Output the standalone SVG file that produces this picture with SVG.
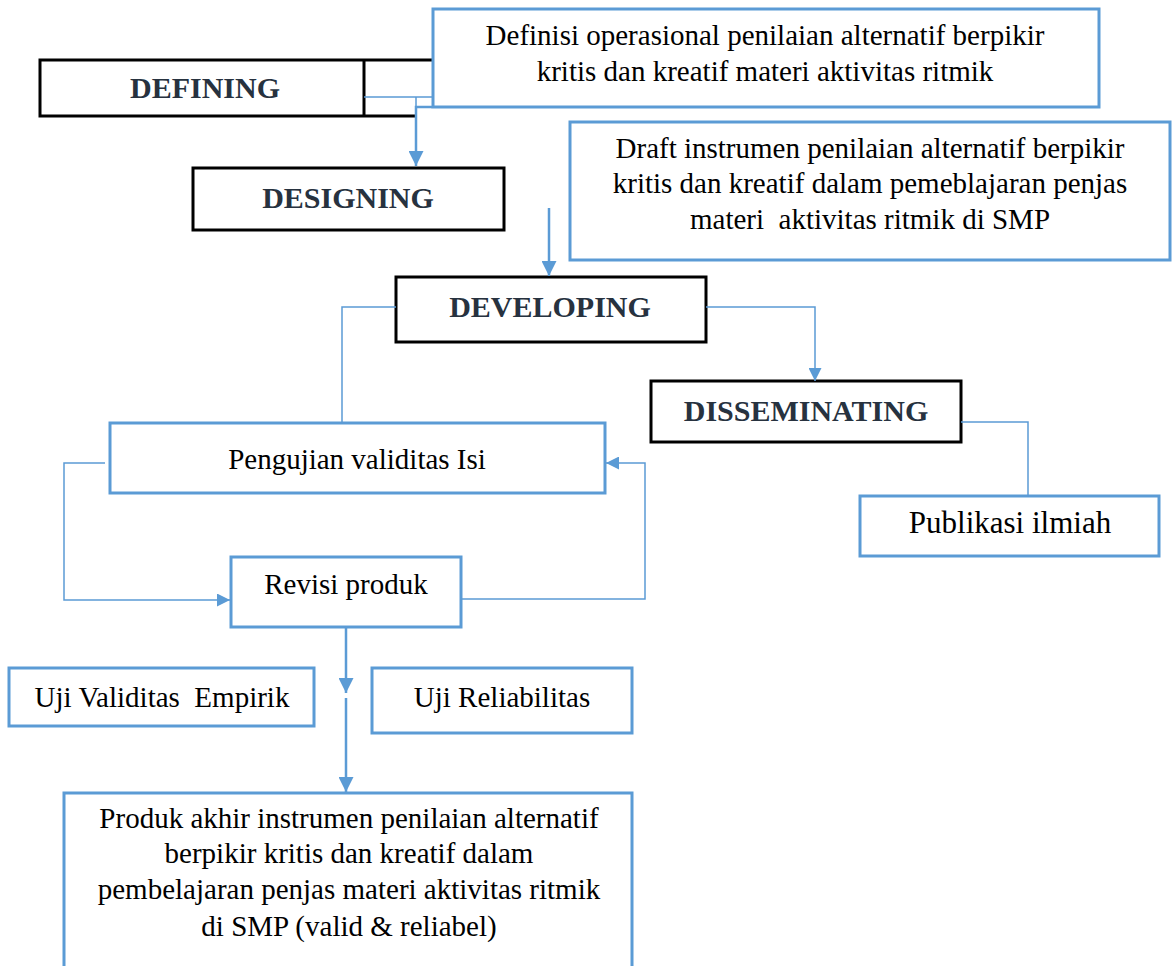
<svg xmlns="http://www.w3.org/2000/svg" width="1172" height="966" viewBox="0 0 1172 966">
<defs>
<marker id="ah" viewBox="0 0 10 10" refX="10" refY="5" markerUnits="userSpaceOnUse" markerWidth="15" markerHeight="15" orient="auto">
<path d="M0,0 L10,5 L0,10 z" fill="#5b9bd5"/>
</marker>
<marker id="ahs" viewBox="0 0 10 10" refX="10" refY="5" markerUnits="userSpaceOnUse" markerWidth="14" markerHeight="13" orient="auto">
<path d="M0,0 L10,5 L0,10 z" fill="#5b9bd5"/>
</marker>
<style>
.bb{fill:#fff;stroke:#5b9bd5;stroke-width:3}
.kb{fill:#fff;stroke:#000;stroke-width:3}
.t{font-family:"Liberation Serif","Times New Roman",serif;font-size:29px;fill:#000;text-anchor:middle}
.st{font-family:"Liberation Serif","Times New Roman",serif;font-size:30px;font-weight:bold;fill:#27323f;text-anchor:middle}
.thin{fill:none;stroke:#5b9bd5;stroke-width:1.5}
.thick{fill:none;stroke:#5b9bd5;stroke-width:2.5}
</style>
</defs>
<rect width="1172" height="966" fill="#fff"/>

<g id="defining">
<path d="M432 60 H40 V116 H416" fill="#fff" stroke="#000" stroke-width="3"/>
<line x1="364" y1="60" x2="364" y2="116" stroke="#000" stroke-width="3"/>
<text class="st" x="205" y="98">DEFINING</text>
</g>

<g id="definisi">
<rect class="bb" x="433" y="9" width="666" height="98"/>
<text class="t" x="765" y="45">Definisi operasional penilaian alternatif berpikir</text>
<text class="t" x="765" y="81">kritis dan kreatif materi aktivitas ritmik</text>
</g>

<g id="designing">
<rect class="kb" x="193" y="168" width="311" height="62"/>
<text class="st" x="348" y="208">DESIGNING</text>
</g>

<g id="draft">
<rect class="bb" x="570" y="122" width="600" height="138"/>
<text class="t" x="870" y="158">Draft instrumen penilaian alternatif berpikir</text>
<text class="t" x="870" y="193">kritis dan kreatif dalam pemeblajaran penjas</text>
<text class="t" x="870" y="229" xml:space="preserve">materi  aktivitas ritmik di SMP</text>
</g>

<g id="developing">
<rect class="kb" x="396" y="277" width="310" height="65"/>
<text class="st" x="550" y="317">DEVELOPING</text>
</g>

<g id="disseminating">
<rect class="kb" x="651" y="381" width="310" height="61"/>
<text class="st" x="806" y="421">DISSEMINATING</text>
</g>

<g id="publikasi">
<rect class="bb" x="860" y="496" width="299" height="60"/>
<text class="t" x="1010" y="533" style="font-size:31px">Publikasi ilmiah</text>
</g>

<g id="pengujian">
<rect class="bb" x="110" y="423" width="495" height="70"/>
<text class="t" x="357" y="469">Pengujian validitas Isi</text>
</g>

<g id="revisi">
<rect class="bb" x="231" y="557" width="230" height="70"/>
<text class="t" x="346" y="594">Revisi produk</text>
</g>

<g id="uji-validitas">
<rect class="bb" x="9" y="668" width="305" height="58"/>
<text class="t" x="162" y="707" xml:space="preserve">Uji Validitas  Empirik</text>
</g>

<g id="uji-reliabilitas">
<rect class="bb" x="372" y="668" width="260" height="65"/>
<text class="t" x="502" y="707">Uji Reliabilitas</text>
</g>

<g id="produk">
<path d="M64 970 V793 H632 V970" fill="#fff" stroke="#5b9bd5" stroke-width="3"/>
<text class="t" x="349" y="828">Produk akhir instrumen penilaian alternatif</text>
<text class="t" x="349" y="863">berpikir kritis dan kreatif dalam</text>
<text class="t" x="349" y="899">pembelajaran penjas materi aktivitas ritmik</text>
<text class="t" x="349" y="936">di SMP (valid &amp; reliabel)</text>
</g>

<g id="connectors">
<path class="thin" d="M364 97 H432 M416 97 V107"/>
<path class="thick" d="M432 107 H416 V166" stroke-width="3" marker-end="url(#ah)"/>
<path class="thick" d="M549 208 V276" marker-end="url(#ah)"/>
<path class="thin" d="M396 307 H342 V423"/>
<path class="thin" d="M706 307 H815 V381" marker-end="url(#ahs)"/>
<path class="thin" d="M961 422 H1028 V496"/>
<path class="thin" d="M105 463 H64 V600 H230" marker-end="url(#ahs)"/>
<path class="thin" d="M461 599 H645 V463 H606" marker-end="url(#ahs)"/>
<path class="thick" d="M346 627 V693" marker-end="url(#ah)"/>
<path class="thick" d="M346 698 V792" marker-end="url(#ah)"/>
</g>
</svg>
